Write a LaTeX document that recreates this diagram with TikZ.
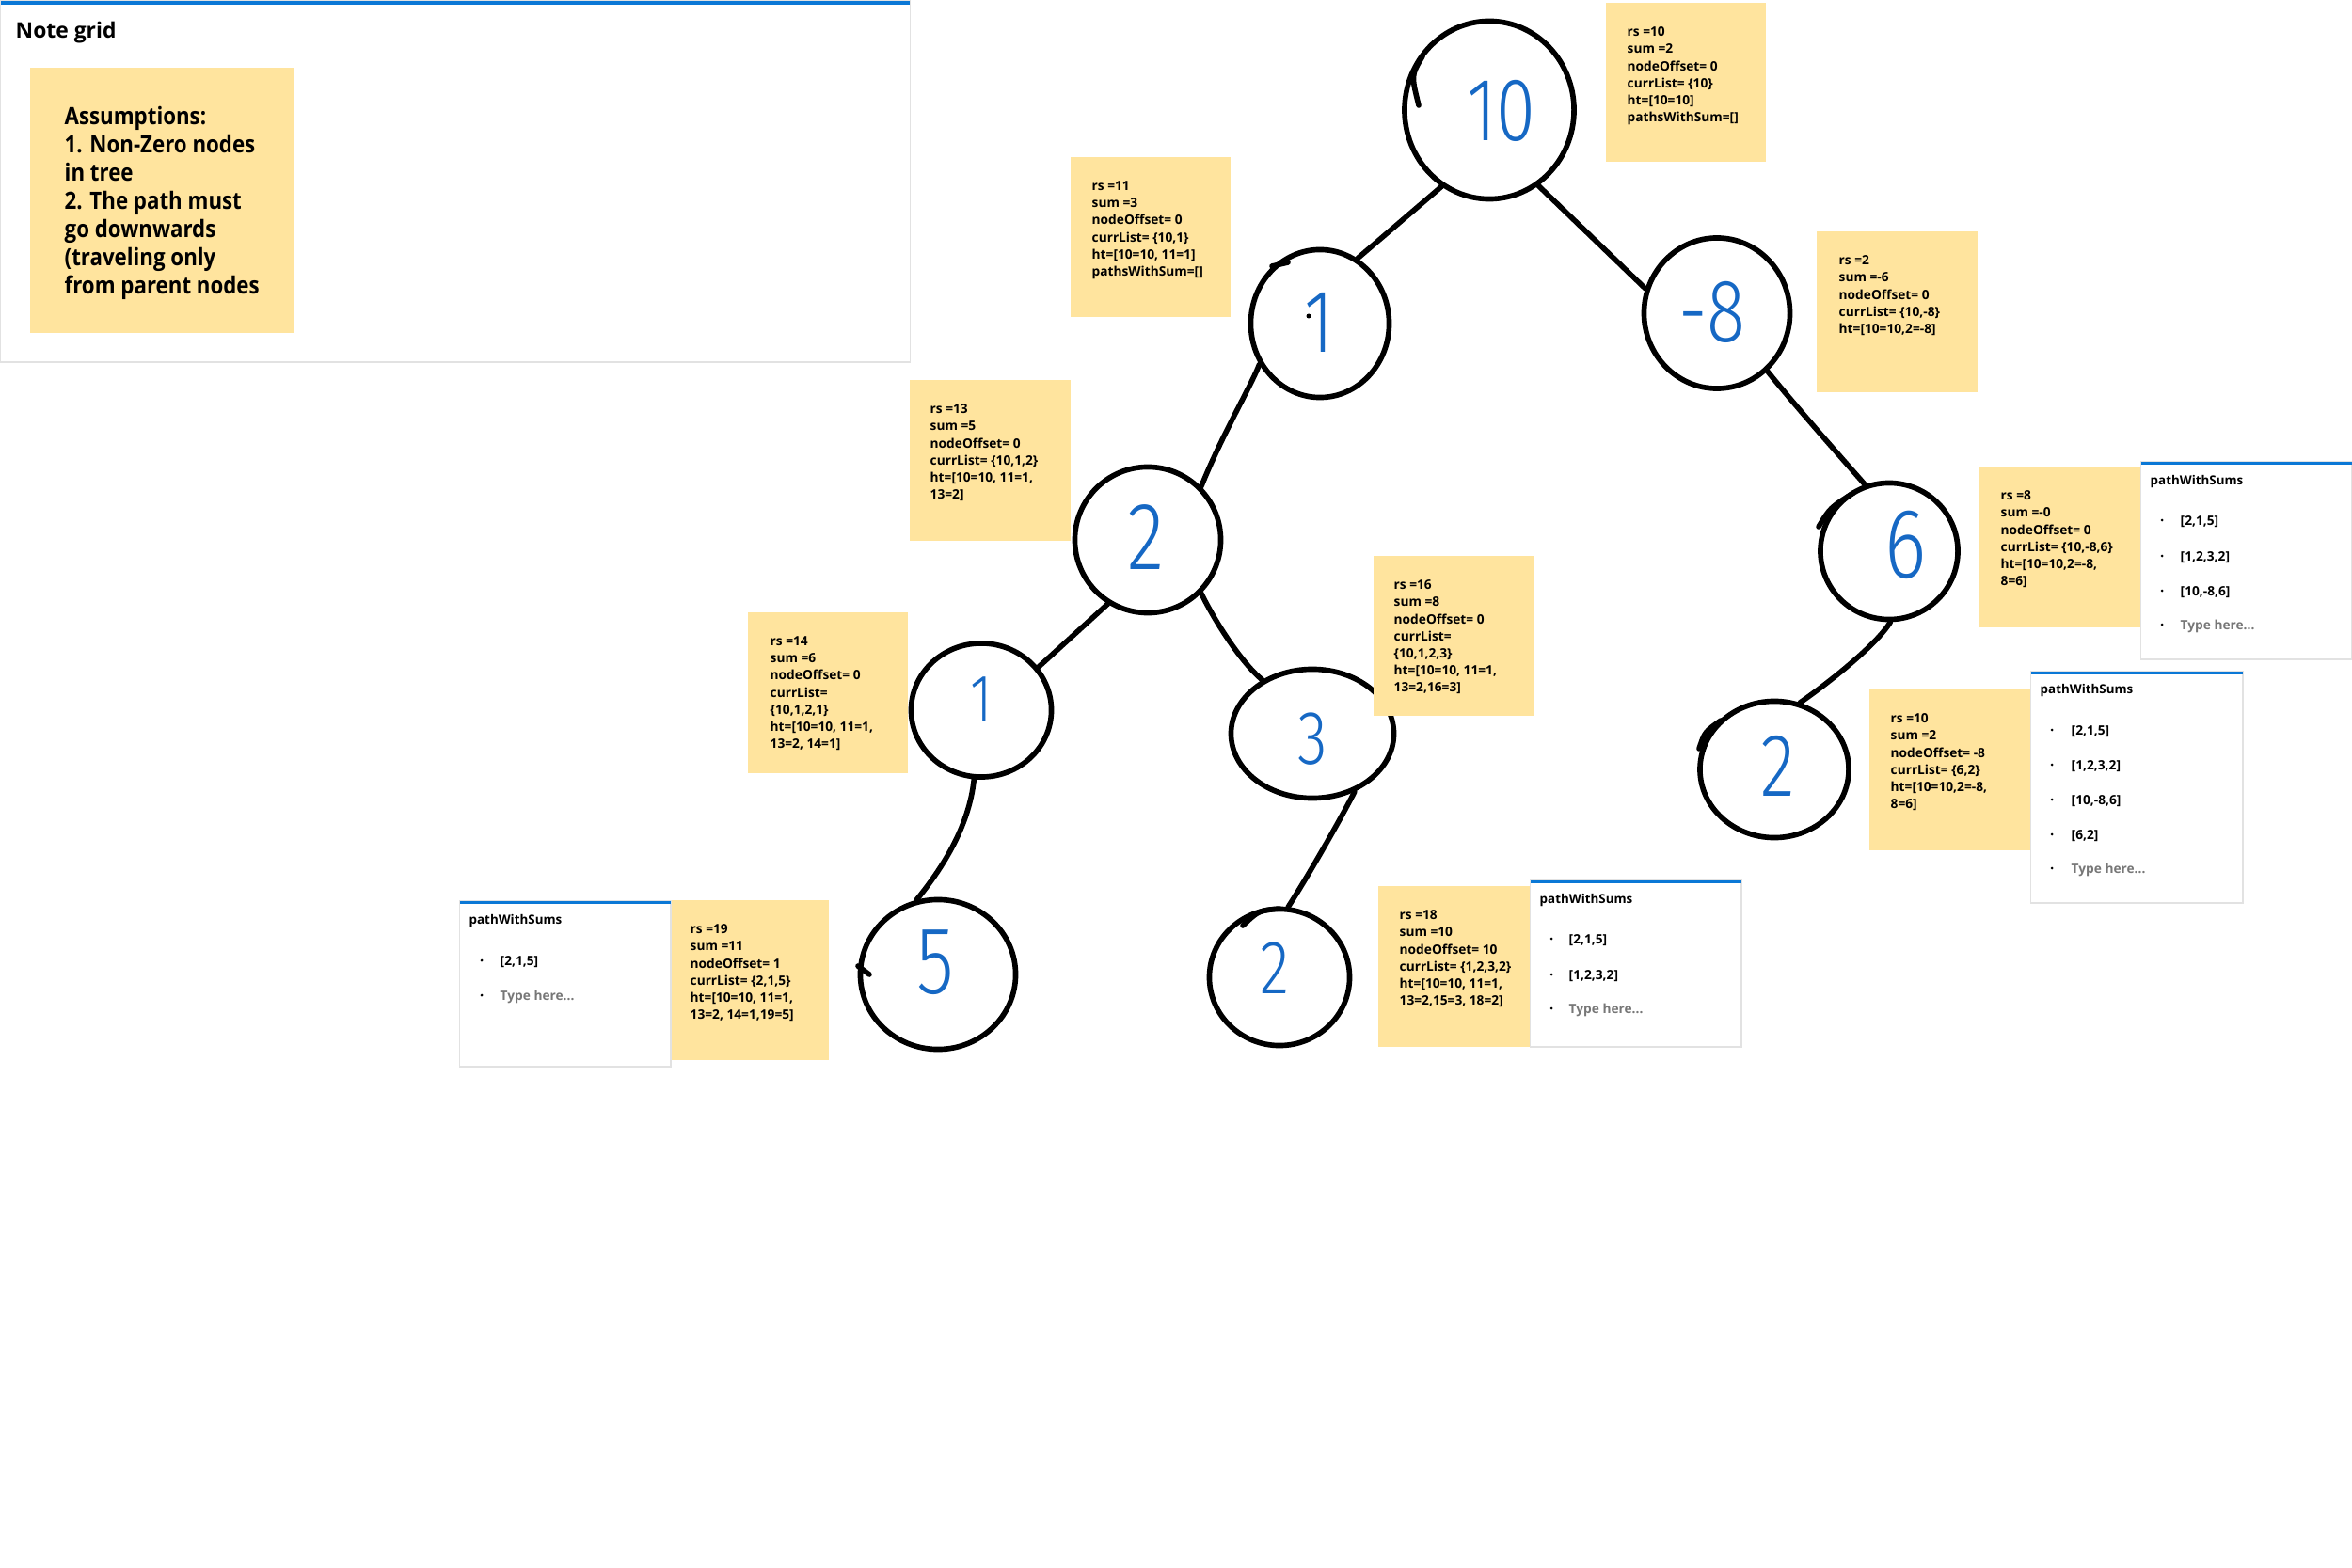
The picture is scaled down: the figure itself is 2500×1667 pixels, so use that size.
\documentclass[tikz,border=0pt]{standalone}
\usepackage{fontspec}
\setmainfont{Open Sans}
\newfontfamily\condfont[FakeStretch=0.88]{Open Sans}
\newfontfamily\inkfont[FakeStretch=0.8]{Fira Sans Light}
\usetikzlibrary{shapes.geometric}

\definecolor{stickyfill}{HTML}{FFE49E}
\definecolor{inkblue}{HTML}{1668C4}
\definecolor{barblue}{HTML}{0B78D6}
\definecolor{panelline}{HTML}{E2E2E2}
\definecolor{hintgrey}{HTML}{777777}

\tikzset{
  stickynote/.style={fill=stickyfill, anchor=north west, inner sep=0pt},
  notetext/.style={anchor=north west, inner sep=0pt, align=left,
    font=\fontsize{3.9pt}{5.18pt}\selectfont\bfseries},
  treenode/.style={ellipse, draw=black, line width=1.6pt, inner sep=0pt},
  inkdigit/.style={text=inkblue, inner sep=0pt},
  edge/.style={draw=black, line width=1.6pt, line cap=round, line join=round},
  panelbox/.style={draw=panelline, line width=0.4pt, fill=white, anchor=north west, inner sep=0pt},
  panelbar/.style={fill=barblue, draw=none, anchor=north west, inner sep=0pt, minimum height=0.03cm},
  paneltitle/.style={anchor=base west, inner sep=0pt, font=\fontsize{3.8pt}{4.6pt}\selectfont\bfseries},
  listitem/.style={anchor=base west, inner sep=0pt, font=\fontsize{3.9pt}{4.6pt}\selectfont\bfseries},
  hintitem/.style={listitem, text=hintgrey},
  bulletdot/.style={circle, fill=black, inner sep=0pt, minimum size=0.03cm},
}

\begin{document}
\begin{tikzpicture}[x=0.01cm, y=-0.01cm]
\useasboundingbox (0,0) rectangle (2500,1667);
\fill[white] (0,0) rectangle (2500,1667);

% ---------- Note grid panel ----------
\node[panelbox, minimum width=9.66cm, minimum height=3.84cm] (grid) at (0,0) {};
\node[panelbar, minimum width=9.66cm, minimum height=0.04cm] (gridbar) at (0,0) {};
\node[anchor=base west, inner sep=0pt, font=\fontsize{6.5pt}{8pt}\selectfont\bfseries] (gridtitle) at (16,41) {Note grid};
\node[stickynote, minimum width=2.81cm, minimum height=2.82cm] (assume) at (31,71) {};
\node[anchor=north west, inner sep=0pt, align=left, font=\condfont\fontsize{7.2pt}{8.5pt}\selectfont\bfseries] (assumetext) at (68,113)
  {Assumptions:\\1. Non-Zero nodes\\in tree\\2. The path must\\go downwards\\(traveling only\\from parent nodes};

% ---------- tree nodes ----------
\node[treenode, minimum width=1.80cm, minimum height=1.89cm] (c10) at (1583,117) {};
\node[treenode, minimum width=1.47cm, minimum height=1.57cm] (c1) at (1403,344) {};
\node[treenode, minimum width=1.55cm, minimum height=1.60cm] (cm8) at (1825,333) {};
\node[treenode, minimum width=1.55cm, minimum height=1.55cm] (c2) at (1220,574) {};
\node[treenode, minimum width=1.46cm, minimum height=1.45cm] (c6) at (2008,586) {};
\node[treenode, minimum width=1.49cm, minimum height=1.42cm] (c1b) at (1043,755) {};
\node[treenode, minimum width=1.73cm, minimum height=1.37cm] (c3) at (1395,780) {};
\node[treenode, minimum width=1.58cm, minimum height=1.45cm] (c2r) at (1886,818) {};
\node[treenode, minimum width=1.65cm, minimum height=1.59cm] (c5) at (997,1036) {};
\node[treenode, minimum width=1.49cm, minimum height=1.45cm] (c2b) at (1360,1039) {};

% start-of-stroke tails on the hand-drawn circles
\draw[edge] (1512,60) .. controls (1500,80) .. (1508,112);
\draw[edge] (1352,283) -- (1369,279);
\draw[edge] (1970,524) .. controls (1945,540) .. (1933,560);
\draw[edge] (1829,766) .. controls (1812,778) .. (1806,796);
\draw[edge] (1360,966) .. controls (1338,968) .. (1321,984);
\draw[edge] (912,1027) -- (924,1036);

% handwritten values
\node[inkdigit, font=\inkfont\fontsize{27pt}{27pt}\selectfont] (t10) at (1596,118) {10};
\node[inkdigit, font=\inkfont\fontsize{27pt}{27pt}\selectfont] (t1) at (1402,343) {1};
\fill[black] (1391,336) circle (2.5);
\node[inkdigit, font=\inkfont\fontsize{27pt}{27pt}\selectfont] (tm8) at (1820,332) {-8};
\node[inkdigit, font=\inkfont\fontsize{29pt}{29pt}\selectfont] (t2) at (1218,571) {2};
\node[inkdigit, font=\inkfont\fontsize{30pt}{30pt}\selectfont] (t6) at (2026,579) {6};
\node[inkdigit, font=\inkfont\fontsize{20pt}{20pt}\selectfont] (t1b) at (1043,743) {1};
\node[inkdigit, font=\inkfont\fontsize{23pt}{23pt}\selectfont] (t3) at (1395,786) {3};
\node[inkdigit, font=\inkfont\fontsize{27pt}{27pt}\selectfont] (t2r) at (1890,814) {2};
\node[inkdigit, font=\inkfont\fontsize{29pt}{29pt}\selectfont] (t5) at (994,1023) {5};
\node[inkdigit, font=\inkfont\fontsize{23pt}{23pt}\selectfont] (t2b) at (1355,1029) {2};

% ---------- connectors ----------
\draw[edge] (c10.-122) -- (c1.60);
\draw[edge] (c10.-57) -- (cm8.161);
\draw[edge] (c1.-146) .. controls (1330,410) and (1300,460) .. (c2.45);
\draw[edge] (cm8.-49) .. controls (1912,436) and (1962,492) .. (c6.110);
\draw[edge] (c2.-122) -- (c1b.37);
\draw[edge] (c2.-45) .. controls (1292,662) and (1320,705) .. (c3.133);
\draw[edge] (c1b.-96) .. controls (1030,880) and (1000,925) .. (c5.106);
\draw[edge] (c3.-54) .. controls (1420,880) and (1385,940) .. (c2b.83);
\draw[edge] (c6.-89) .. controls (1995,685) and (1945,725) .. (c2r.69);

% ---------- state notes ----------
\node[stickynote, minimum width=1.70cm, minimum height=1.69cm] (s1) at (1706,2) {};
\node[notetext] (s1t) at (1729,28) {rs =10\\sum =2\\nodeOffset= 0\\currList= \{10\}\\ht=[10=10]\\pathsWithSum=[]};

\node[stickynote, minimum width=1.70cm, minimum height=1.70cm] (s2) at (1137,166) {};
\node[notetext] (s2t) at (1160,192) {rs =11\\sum =3\\nodeOffset= 0\\currList= \{10,1\}\\ht=[10=10, 11=1]\\pathsWithSum=[]};

\node[stickynote, minimum width=1.71cm, minimum height=1.71cm] (s3) at (1930,245) {};
\node[notetext] (s3t) at (1954,271) {rs =2\\sum =-6\\nodeOffset= 0\\currList= \{10,-8\}\\ht=[10=10,2=-8]};

\node[stickynote, minimum width=1.71cm, minimum height=1.71cm] (s4) at (966,403) {};
\node[notetext] (s4t) at (988,429) {rs =13\\sum =5\\nodeOffset= 0\\currList= \{10,1,2\}\\ht=[10=10, 11=1,\\13=2]};

\node[stickynote, minimum width=1.72cm, minimum height=1.71cm] (s5) at (2103,495) {};
\node[notetext] (s5t) at (2126,521) {rs =8\\sum =-0\\nodeOffset= 0\\currList= \{10,-8,6\}\\ht=[10=10,2=-8,\\8=6]};

\node[stickynote, minimum width=1.70cm, minimum height=1.70cm] (s6) at (1459,590) {};
\node[notetext] (s6t) at (1481,616) {rs =16\\sum =8\\nodeOffset= 0\\currList=\\\{10,1,2,3\}\\ht=[10=10, 11=1,\\13=2,16=3]};

\node[stickynote, minimum width=1.70cm, minimum height=1.71cm] (s7) at (794,650) {};
\node[notetext] (s7t) at (818,676) {rs =14\\sum =6\\nodeOffset= 0\\currList=\\\{10,1,2,1\}\\ht=[10=10, 11=1,\\13=2, 14=1]};

\node[stickynote, minimum width=1.72cm, minimum height=1.71cm] (s8) at (1986,732) {};
\node[notetext] (s8t) at (2009,758) {rs =10\\sum =2\\nodeOffset= -8\\currList= \{6,2\}\\ht=[10=10,2=-8,\\8=6]};

\node[stickynote, minimum width=1.68cm, minimum height=1.70cm] (s9) at (712,956) {};
\node[notetext] (s9t) at (733,982) {rs =19\\sum =11\\nodeOffset= 1\\currList= \{2,1,5\}\\ht=[10=10, 11=1,\\13=2, 14=1,19=5]};

\node[stickynote, minimum width=1.62cm, minimum height=1.71cm] (s10) at (1464,941) {};
\node[notetext] (s10t) at (1487,967) {rs =18\\sum =10\\nodeOffset= 10\\currList= \{1,2,3,2\}\\ht=[10=10, 11=1,\\13=2,15=3, 18=2]};

% ---------- pathWithSums lists ----------
% right, upper
\node[panelbox, minimum width=2.24cm, minimum height=2.10cm] (p1) at (2275,490) {};
\node[panelbar, minimum width=2.24cm] (p1bar) at (2275,490) {};
\node[paneltitle] (p1title) at (2285,515) {pathWithSums};
\node[bulletdot] (p1b1) at (2298,553) {}; \node[listitem] (p1i1) at (2317,558) {[2,1,5]};
\node[bulletdot] (p1b2) at (2298,591) {}; \node[listitem] (p1i2) at (2317,596) {[1,2,3,2]};
\node[bulletdot] (p1b3) at (2298,628) {}; \node[listitem] (p1i3) at (2317,633) {[10,-8,6]};
\node[bulletdot] (p1b4) at (2298,664) {}; \node[hintitem] (p1i4) at (2317,669) {Type here...};

% right, lower
\node[panelbox, minimum width=2.25cm, minimum height=2.46cm] (p2) at (2158,713) {};
\node[panelbar, minimum width=2.25cm] (p2bar) at (2158,713) {};
\node[paneltitle] (p2title) at (2168,737) {pathWithSums};
\node[bulletdot] (p2b1) at (2181,776) {}; \node[listitem] (p2i1) at (2201,781) {[2,1,5]};
\node[bulletdot] (p2b2) at (2181,813) {}; \node[listitem] (p2i2) at (2201,818) {[1,2,3,2]};
\node[bulletdot] (p2b3) at (2181,850) {}; \node[listitem] (p2i3) at (2201,855) {[10,-8,6]};
\node[bulletdot] (p2b4) at (2181,887) {}; \node[listitem] (p2i4) at (2201,892) {[6,2]};
\node[bulletdot] (p2b5) at (2181,923) {}; \node[hintitem] (p2i5) at (2201,928) {Type here...};

% left, bottom
\node[panelbox, minimum width=2.24cm, minimum height=1.76cm] (p3) at (488,957) {};
\node[panelbar, minimum width=2.24cm] (p3bar) at (488,957) {};
\node[paneltitle] (p3title) at (498,982) {pathWithSums};
\node[bulletdot] (p3b1) at (512,1021) {}; \node[listitem] (p3i1) at (531,1026) {[2,1,5]};
\node[bulletdot] (p3b2) at (512,1058) {}; \node[hintitem] (p3i2) at (531,1063) {Type here...};

% middle, bottom
\node[panelbox, minimum width=2.24cm, minimum height=1.77cm] (p4) at (1626,935) {};
\node[panelbar, minimum width=2.24cm] (p4bar) at (1626,935) {};
\node[paneltitle] (p4title) at (1636,960) {pathWithSums};
\node[bulletdot] (p4b1) at (1649,998) {}; \node[listitem] (p4i1) at (1667,1003) {[2,1,5]};
\node[bulletdot] (p4b2) at (1649,1036) {}; \node[listitem] (p4i2) at (1667,1041) {[1,2,3,2]};
\node[bulletdot] (p4b3) at (1649,1072) {}; \node[hintitem] (p4i3) at (1667,1077) {Type here...};

\end{tikzpicture}
\end{document}
